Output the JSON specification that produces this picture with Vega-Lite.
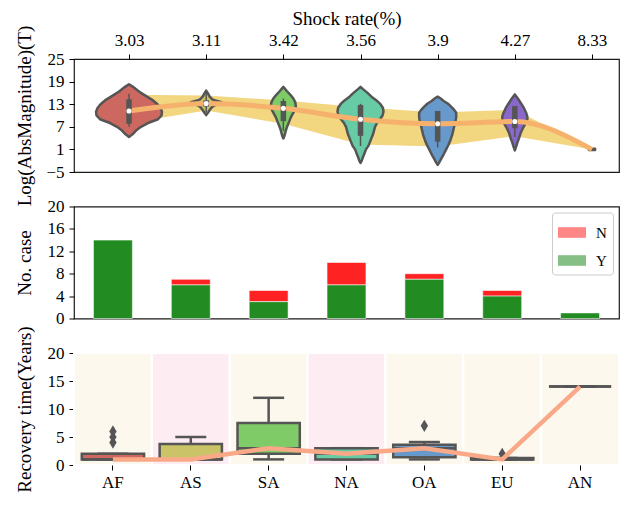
{
  "$schema": "https://vega.github.io/schema/vega-lite/v6.json",
  "padding": {"left": 14, "top": 8, "right": 4, "bottom": 4},
  "bounds": "flush",
  "spacing": 34.5,
  "resolve": {"scale": {"color": "independent"}},
  "config": {
    "font": "Liberation Serif",
    "view": {"stroke": "#1a1a1a", "strokeWidth": 1.2},
    "axis": {
      "labelFont": "Liberation Serif", "labelFontSize": 17, "labelColor": "#000",
      "titleFont": "Liberation Serif", "titleFontSize": 19, "titleFontWeight": "normal", "titleColor": "#000",
      "tickColor": "#000", "tickSize": 5, "tickWidth": 1, "domain": false, "grid": false, "labelFlush": false, "labelOverlap": false,
      "tickCount": 30
    },
    "axisY": {"labelPadding": 5, "titleX": -40, "titleBaseline": "bottom"}
  },
  "datasets": {
    "band": [
      {"g": 0, "lo": 8.0, "hi": 15.5}, {"g": 1, "lo": 11.3, "hi": 15.3}, {"g": 2, "lo": 7.8, "hi": 14.0},
      {"g": 3, "lo": 2.3, "hi": 12.2}, {"g": 4, "lo": 1.8, "hi": 10.8}, {"g": 5, "lo": 4.5, "hi": 11.5},
      {"g": 6, "lo": 1.0, "hi": 1.0}
    ],
    "violin": [
      {"g":0,"v":18.3,"d":0},{"g":0,"v":17.6,"d":0.052},{"g":0,"v":16.8,"d":0.104},{"g":0,"v":16,"d":0.155},{"g":0,"v":15,"d":0.233},{"g":0,"v":14,"d":0.311},{"g":0,"v":13,"d":0.369},{"g":0,"v":12,"d":0.408},{"g":0,"v":11,"d":0.427},{"g":0,"v":10,"d":0.421},{"g":0,"v":9,"d":0.376},{"g":0,"v":8,"d":0.246},{"g":0,"v":7,"d":0.155},{"g":0,"v":6,"d":0.091},{"g":0,"v":5,"d":0.045},{"g":0,"v":4.3,"d":0},
      {"g":1,"v":16.6,"d":0},{"g":1,"v":15.8,"d":0.025},{"g":1,"v":15.0,"d":0.045},{"g":1,"v":14.3,"d":0.08},{"g":1,"v":13.9,"d":0.13},{"g":1,"v":13.5,"d":0.2},{"g":1,"v":13.2,"d":0.18},{"g":1,"v":12.8,"d":0.12},{"g":1,"v":12.3,"d":0.078},{"g":1,"v":11.6,"d":0.05},{"g":1,"v":10.8,"d":0.025},{"g":1,"v":10.1,"d":0},
      {"g":2,"v":17.6,"d":0},{"g":2,"v":16.5,"d":0.045},{"g":2,"v":15.5,"d":0.091},{"g":2,"v":14.5,"d":0.13},{"g":2,"v":13.5,"d":0.155},{"g":2,"v":12.5,"d":0.162},{"g":2,"v":11.5,"d":0.149},{"g":2,"v":10.5,"d":0.123},{"g":2,"v":9.5,"d":0.097},{"g":2,"v":8.5,"d":0.078},{"g":2,"v":7.5,"d":0.058},{"g":2,"v":6.5,"d":0.039},{"g":2,"v":5.5,"d":0.026},{"g":2,"v":4.5,"d":0.013},{"g":2,"v":3.9,"d":0},
      {"g":3,"v":17.6,"d":0},{"g":3,"v":17,"d":0.032},{"g":3,"v":16,"d":0.091},{"g":3,"v":15,"d":0.142},{"g":3,"v":14,"d":0.207},{"g":3,"v":13,"d":0.259},{"g":3,"v":12,"d":0.291},{"g":3,"v":11,"d":0.298},{"g":3,"v":10,"d":0.285},{"g":3,"v":9,"d":0.253},{"g":3,"v":8,"d":0.214},{"g":3,"v":7,"d":0.188},{"g":3,"v":6,"d":0.175},{"g":3,"v":5,"d":0.162},{"g":3,"v":4,"d":0.142},{"g":3,"v":3,"d":0.123},{"g":3,"v":2,"d":0.104},{"g":3,"v":1,"d":0.071},{"g":3,"v":0,"d":0.052},{"g":3,"v":-1,"d":0.032},{"g":3,"v":-2,"d":0.016},{"g":3,"v":-2.6,"d":0},
      {"g":4,"v":15,"d":0},{"g":4,"v":14.5,"d":0.039},{"g":4,"v":13.85,"d":0.078},{"g":4,"v":13.2,"d":0.13},{"g":4,"v":12.5,"d":0.168},{"g":4,"v":11.5,"d":0.214},{"g":4,"v":10.75,"d":0.24},{"g":4,"v":9.5,"d":0.24},{"g":4,"v":8.5,"d":0.231},{"g":4,"v":7.7,"d":0.22},{"g":4,"v":6.5,"d":0.207},{"g":4,"v":5,"d":0.19},{"g":4,"v":3.5,"d":0.166},{"g":4,"v":2.3,"d":0.142},{"g":4,"v":1,"d":0.11},{"g":4,"v":-0.3,"d":0.078},{"g":4,"v":-1.5,"d":0.045},{"g":4,"v":-2.5,"d":0.019},{"g":4,"v":-3.1,"d":0},
      {"g":5,"v":15.6,"d":0},{"g":5,"v":14.5,"d":0.039},{"g":5,"v":13,"d":0.087},{"g":5,"v":12,"d":0.117},{"g":5,"v":10.75,"d":0.146},{"g":5,"v":9.7,"d":0.162},{"g":5,"v":9,"d":0.162},{"g":5,"v":8,"d":0.142},{"g":5,"v":6.8,"d":0.108},{"g":5,"v":5.5,"d":0.078},{"g":5,"v":4.1,"d":0.056},{"g":5,"v":3,"d":0.036},{"g":5,"v":1.9,"d":0.019},{"g":5,"v":0.75,"d":0},
      {"g":6,"v":0.85,"d":0.04},{"g":6,"v":1.15,"d":0.04}
    ],
    "inner": [
      {"g":0,"wlo":7.0,"whi":15.8,"q1":7.8,"q3":14.3,"med":11.2},
      {"g":1,"wlo":10.8,"whi":16.0,"q1":12.4,"q3":14.0,"med":13.2},
      {"g":2,"wlo":5.9,"whi":14.5,"q1":8.5,"q3":13.85,"med":11.9},
      {"g":3,"wlo":1.9,"whi":13.1,"q1":4.6,"q3":12.8,"med":9.0},
      {"g":4,"wlo":1.5,"whi":11.2,"q1":3.05,"q3":11.2,"med":7.8},
      {"g":5,"wlo":4.3,"whi":12.5,"q1":6.6,"q3":12.5,"med":8.4},
      {"g":6,"wlo":1.0,"whi":1.0,"q1":1.0,"q3":1.0,"med":1.0}
    ],
    "cases": [
      {"r":"AF","k":"N","n":0},{"r":"AF","k":"Y","n":14},
      {"r":"AS","k":"N","n":1},{"r":"AS","k":"Y","n":6},
      {"r":"SA","k":"N","n":2},{"r":"SA","k":"Y","n":3},
      {"r":"NA","k":"N","n":4},{"r":"NA","k":"Y","n":6},
      {"r":"OA","k":"N","n":1},{"r":"OA","k":"Y","n":7},
      {"r":"EU","k":"N","n":1},{"r":"EU","k":"Y","n":4},
      {"r":"AN","k":"N","n":0},{"r":"AN","k":"Y","n":1}
    ],
    "box": [
      {"r":"AF","mn":1,"q1":1,"med":1,"q3":2,"mx":2},
      {"r":"AS","mn":1,"q1":1,"med":1,"q3":3.75,"mx":5},
      {"r":"SA","mn":1,"q1":2,"med":3,"q3":7.5,"mx":12},
      {"r":"NA","mn":1,"q1":1,"med":2,"q3":3,"mx":3},
      {"r":"OA","mn":1,"q1":1.4,"med":3,"q3":3.6,"mx":4.1},
      {"r":"EU","mn":1,"q1":1,"med":1,"q3":1.25,"mx":1.25},
      {"r":"AN","mn":14,"q1":14,"med":14,"q3":14,"mx":14}
    ],
    "outl": [
      {"r":"AF","v":4},{"r":"AF","v":5},{"r":"AF","v":6},{"r":"OA","v":7},{"r":"EU","v":2}
    ]
  },
  "vconcat": [
    {
      "width": 545, "height": 113,
      "layer": [
        {
          "data": {"name": "band"},
          "mark": {"type": "area", "orient": "vertical", "color": "#f2d680"},
          "encoding": {
            "x": {"field": "g", "type": "quantitative", "title": "Shock rate(%)",
                  "scale": {"domain": [-0.713, 6.35], "nice": false, "zero": false},
                  "axis": {"orient": "top", "values": [0,1,2,3,4,5,6], "tickCount": 30,
                           "labelExpr": "['3.03','3.11','3.42','3.56','3.9','4.27','8.33'][datum.value]",
                           "labelOverlap": false, "labelPadding": 5, "titlePadding": 3}},
            "y": {"field": "lo", "type": "quantitative", "title": "Log(AbsMagnitude)(T)",
                  "scale": {"domain": [-5, 25], "nice": false, "zero": false},
                  "axis": {"values": [-5,1,7,13,19,25], "tickCount": 30, "format": "d", "labelOverlap": false}},
            "y2": {"field": "hi"}
          }
        },
        {
          "data": {"name": "violin"},
          "transform": [
            {"calculate": "datum.g - datum.d", "as": "xl"},
            {"calculate": "datum.g + datum.d", "as": "xr"}
          ],
          "mark": {"type": "area", "orient": "horizontal", "stroke": "#555555", "strokeWidth": 2.5, "fillOpacity": 1, "strokeJoin": "round"},
          "encoding": {
            "y": {"field": "v", "type": "quantitative", "title": "Log(AbsMagnitude)(T)"},
            "x": {"field": "xl", "type": "quantitative", "title": "Shock rate(%)"},
            "x2": {"field": "xr"},
            "color": {"field": "g", "type": "nominal", "legend": null,
                      "scale": {"domain": [0,1,2,3,4,5,6], "range": ["#cd6860","#cbc367","#7ecb67","#67cba6","#679acb","#8a67cb","#cb67b7"]}}
          }
        },
        {
          "data": {"name": "inner"},
          "mark": {"type": "line", "color": "#f6b26d", "strokeWidth": 5, "interpolate": "monotone"},
          "encoding": {
            "x": {"field": "g", "type": "quantitative", "title": "Shock rate(%)"},
            "y": {"field": "med", "type": "quantitative", "title": "Log(AbsMagnitude)(T)"}
          }
        },
        {
          "data": {"name": "inner"},
          "transform": [{"filter": "datum.g < 6"}],
          "mark": {"type": "rule", "color": "#555555", "strokeWidth": 1.5},
          "encoding": {
            "x": {"field": "g", "type": "quantitative", "title": "Shock rate(%)"},
            "y": {"field": "wlo", "type": "quantitative", "title": "Log(AbsMagnitude)(T)"},
            "y2": {"field": "whi"}
          }
        },
        {
          "data": {"name": "inner"},
          "transform": [{"filter": "datum.g < 6"}],
          "mark": {"type": "rule", "color": "#555555", "strokeWidth": 5.5},
          "encoding": {
            "x": {"field": "g", "type": "quantitative", "title": "Shock rate(%)"},
            "y": {"field": "q1", "type": "quantitative", "title": "Log(AbsMagnitude)(T)"},
            "y2": {"field": "q3"}
          }
        },
        {
          "data": {"name": "inner"},
          "transform": [{"filter": "datum.g < 6"}],
          "mark": {"type": "point", "filled": true, "color": "white", "opacity": 1, "size": 26, "shape": "circle"},
          "encoding": {
            "x": {"field": "g", "type": "quantitative", "title": "Shock rate(%)"},
            "y": {"field": "med", "type": "quantitative", "title": "Log(AbsMagnitude)(T)"}
          }
        },
        {
          "mark": {"type": "text", "fontSize": 21, "font": "Liberation Serif", "color": "#000", "baseline": "middle", "align": "center"},
          "encoding": {
            "x": {"datum": 3, "type": "quantitative"},
            "y": {"datum": 21.8, "type": "quantitative"},
            "text": {"value": "(a)"}
          }
        }
      ]
    },
    {
      "width": 545, "height": 112,
      "layer": [
        {
          "data": {"name": "cases"},
          "mark": {"type": "bar", "width": {"band": 0.5}, "stroke": "white", "strokeWidth": 0.8, "strokeOpacity": 0.7},
          "encoding": {
            "x": {"field": "r", "type": "nominal", "sort": ["AF","AS","SA","NA","OA","EU","AN"],
                  "scale": {"paddingInner": 0, "paddingOuter": 0}, "axis": null},
            "y": {"field": "n", "type": "quantitative", "stack": "zero", "title": "No. case",
                  "scale": {"domain": [0, 20], "nice": false},
                  "axis": {"values": [0,4,8,12,16,20], "tickCount": 30, "format": "d", "labelOverlap": false}},
            "color": {"field": "k", "type": "nominal",
                      "scale": {"domain": ["N","Y"], "range": ["#ff2222", "#228b22"]},
                      "legend": {"title": null, "orient": "none", "legendX": 478, "legendY": 6,
                                 "symbolType": "M-1,-0.38H1V0.38H-1Z", "symbolSize": 784, "symbolOpacity": 0.55,
                                 "symbolStrokeWidth": 0, "labelFont": "Liberation Serif", "labelFontSize": 15,
                                 "labelColor": "#000", "padding": 6, "rowPadding": 6, "labelOffset": 10,
                                 "strokeColor": "#cccccc", "fillColor": "white", "cornerRadius": 3}}
          }
        },
        {
          "mark": {"type": "text", "fontSize": 21, "font": "Liberation Serif", "color": "#000", "baseline": "middle", "align": "center"},
          "encoding": {
            "x": {"datum": "NA", "type": "nominal"},
            "y": {"datum": 18.0, "type": "quantitative"},
            "text": {"value": "(b)"}
          }
        }
      ]
    },
    {
      "width": 545, "height": 112,
      "layer": [
        {
          "data": {"name": "box"},
          "mark": {"type": "rect", "stroke": "white", "strokeWidth": 2},
          "encoding": {
            "x": {"field": "r", "type": "nominal", "sort": ["AF","AS","SA","NA","OA","EU","AN"],
                  "scale": {"paddingInner": 0, "paddingOuter": 0},
                  "axis": {"title": null, "labelAngle": 0, "labelPadding": 4}},
            "y": {"datum": 0, "type": "quantitative", "title": "Recovery time(Years)",
                  "scale": {"domain": [0, 20], "nice": false},
                  "axis": {"values": [0,5,10,15,20], "tickCount": 30, "format": "d", "labelOverlap": false}},
            "y2": {"datum": 20},
            "fill": {"condition": {"test": "datum.r === 'AS' || datum.r === 'NA'", "value": "#fdedf2"}, "value": "#fcf8ee"}
          }
        },
        {
          "data": {"name": "box"},
          "mark": {"type": "rule", "color": "#555555", "strokeWidth": 2.5},
          "encoding": {
            "x": {"field": "r", "type": "nominal", "sort": ["AF","AS","SA","NA","OA","EU","AN"]},
            "y": {"field": "mn", "type": "quantitative", "title": "Recovery time(Years)"},
            "y2": {"field": "mx"}
          }
        },
        {
          "data": {"name": "box"},
          "mark": {"type": "tick", "orient": "horizontal", "color": "#555555", "size": 31, "thickness": 2.5, "opacity": 1},
          "encoding": {
            "x": {"field": "r", "type": "nominal", "sort": ["AF","AS","SA","NA","OA","EU","AN"]},
            "y": {"field": "mn", "type": "quantitative", "title": "Recovery time(Years)"}
          }
        },
        {
          "data": {"name": "box"},
          "mark": {"type": "tick", "orient": "horizontal", "color": "#555555", "size": 31, "thickness": 2.5, "opacity": 1},
          "encoding": {
            "x": {"field": "r", "type": "nominal", "sort": ["AF","AS","SA","NA","OA","EU","AN"]},
            "y": {"field": "mx", "type": "quantitative", "title": "Recovery time(Years)"}
          }
        },
        {
          "data": {"name": "box"},
          "mark": {"type": "bar", "width": {"band": 0.8}, "stroke": "#555555", "strokeWidth": 2.5},
          "encoding": {
            "x": {"field": "r", "type": "nominal", "sort": ["AF","AS","SA","NA","OA","EU","AN"]},
            "y": {"field": "q1", "type": "quantitative", "title": "Recovery time(Years)"},
            "y2": {"field": "q3"},
            "color": {"field": "r", "type": "nominal", "legend": null,
                      "scale": {"domain": ["AF","AS","SA","NA","OA","EU","AN"], "range": ["#cd6860","#cbc367","#7ecb67","#67cba6","#679acb","#8a67cb","#cb67b7"]}}
          }
        },
        {
          "data": {"name": "box"},
          "mark": {"type": "tick", "orient": "horizontal", "color": "#555555", "size": 62, "thickness": 2.5, "opacity": 1},
          "encoding": {
            "x": {"field": "r", "type": "nominal", "sort": ["AF","AS","SA","NA","OA","EU","AN"]},
            "y": {"field": "med", "type": "quantitative", "title": "Recovery time(Years)"}
          }
        },
        {
          "data": {"name": "outl"},
          "mark": {"type": "point", "filled": true, "color": "#555555", "opacity": 1, "size": 150, "shape": "M0,-1L0.6,0L0,1L-0.6,0Z"},
          "encoding": {
            "x": {"field": "r", "type": "nominal", "sort": ["AF","AS","SA","NA","OA","EU","AN"]},
            "y": {"field": "v", "type": "quantitative", "title": "Recovery time(Years)"}
          }
        },
        {
          "data": {"name": "box"},
          "mark": {"type": "line", "color": "#f9a988", "strokeWidth": 4.5},
          "encoding": {
            "x": {"field": "r", "type": "nominal", "sort": ["AF","AS","SA","NA","OA","EU","AN"]},
            "y": {"field": "med", "type": "quantitative", "title": "Recovery time(Years)"}
          }
        },
        {
          "mark": {"type": "text", "fontSize": 21, "font": "Liberation Serif", "color": "#000", "baseline": "middle", "align": "center"},
          "encoding": {
            "x": {"datum": "NA", "type": "nominal"},
            "y": {"datum": 17.2, "type": "quantitative"},
            "text": {"value": "(c)"}
          }
        }
      ]
    }
  ]
}
